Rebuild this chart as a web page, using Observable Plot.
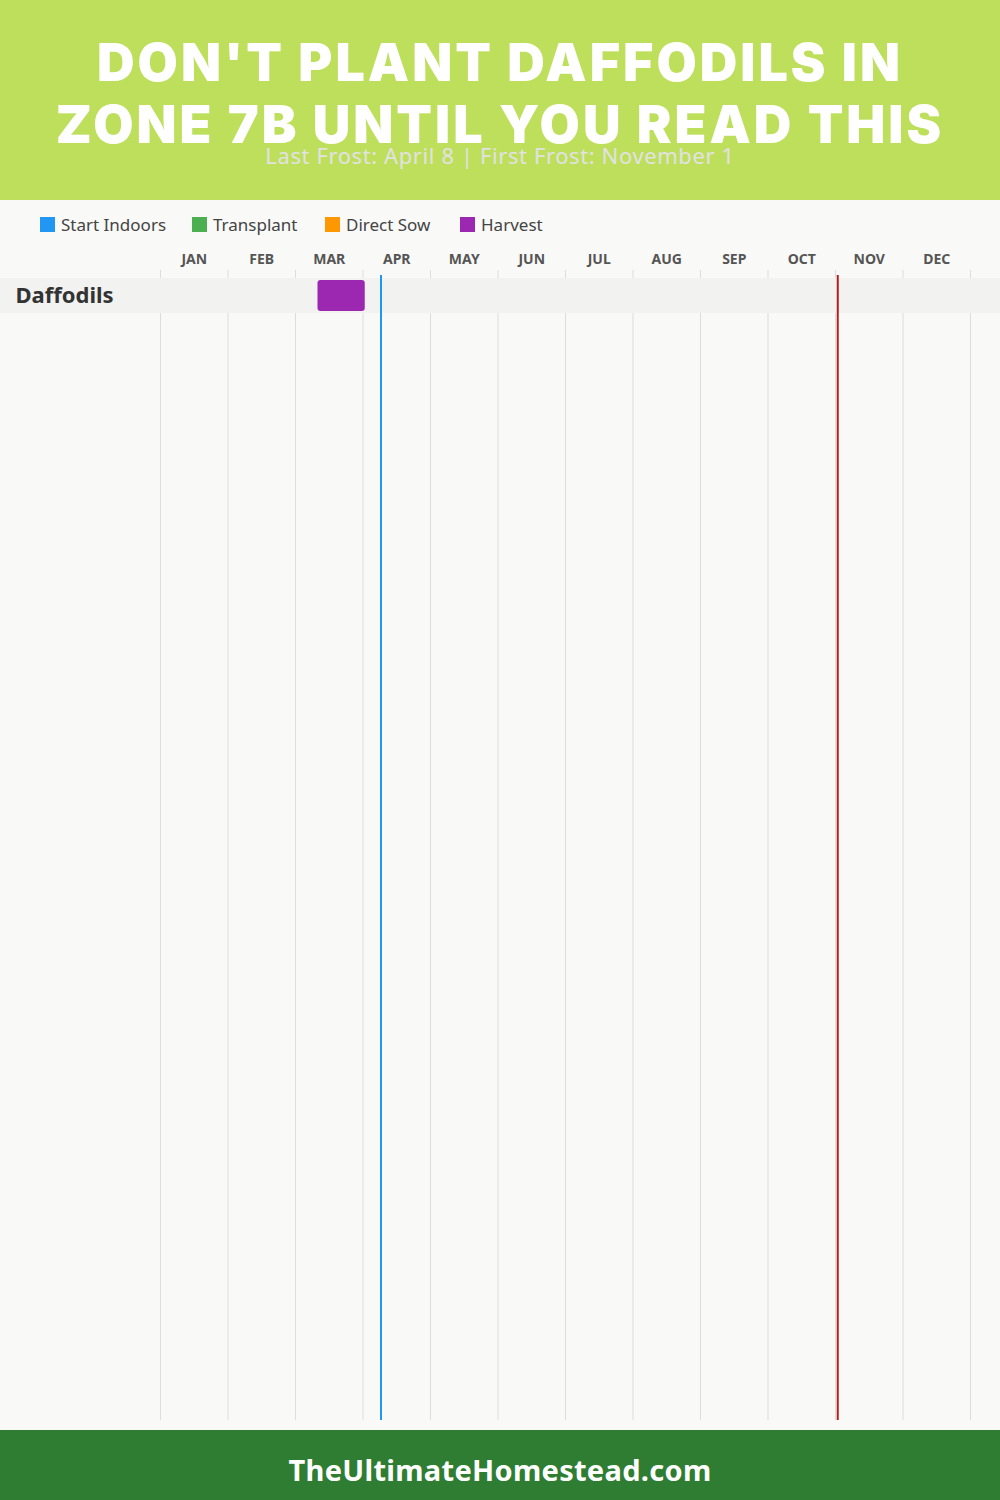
<!DOCTYPE html>
<html><head><meta charset="utf-8">
<script src="https://cdn.jsdelivr.net/npm/d3@7"></script>
<script src="https://cdn.jsdelivr.net/npm/@observablehq/plot@0.6"></script>
<style>
body{margin:0;background:#f9f9f7;font-family:"Noto Sans",sans-serif;width:1000px;}
#header{position:relative;height:200px;background:#bedf5c;}
#title{position:absolute;left:0;right:0;top:32px;text-align:center;color:#fff;font-family:Inter,sans-serif;font-weight:900;font-size:52px;line-height:62px;letter-spacing:3px;}
#sub{position:absolute;left:0;right:0;top:140px;text-align:center;color:#e2e2e2;font-size:22px;line-height:30px;letter-spacing:0.6px;}
#legend{position:relative;height:40px;}
.li{position:absolute;top:13px;display:flex;align-items:center;font-size:17px;color:#444;}
.sw{width:15px;height:15px;margin-right:6px;}
#chart svg{display:block;}
#chart text.crop{letter-spacing:0.4px;}
#footer{height:70px;background:#2e7d32;color:#fff;text-align:center;font-weight:700;font-size:29px;line-height:80px;letter-spacing:0.3px;}
</style></head>
<body>
<div id="header"><div id="title"></div><div id="sub"></div></div>
<div id="legend"></div>
<div id="chart"></div>
<div id="footer"></div>
<script>
const titleLines = ["DON'T PLANT DAFFODILS IN", "ZONE 7B UNTIL YOU READ THIS"];
const subtitle = "Last Frost: April 8 | First Frost: November 1";
const footerText = "TheUltimateHomestead.com";
const months = ["JAN","FEB","MAR","APR","MAY","JUN","JUL","AUG","SEP","OCT","NOV","DEC"];
const legendNames = ["Start Indoors","Transplant","Direct Sow","Harvest"];
const legendColors = ["#2196f3","#4caf50","#ff9800","#9c27b0"];
const crops = ["Daffodils"];
// activity periods: crop, type, start [month index, day], end [month index, day]
const periodCrop = ["Daffodils"];
const periodType = ["Harvest"];
const periodStart = [[2,10]];
const periodEnd = [[3,1]];
const frostNames = ["Last Frost","First Frost"];
const frostDates = [[3,8],[10,1]];
const frostColors = ["#2196f3","#b71c1c"];

document.getElementById("title").innerHTML = titleLines.join("<br>");
document.getElementById("sub").textContent = subtitle;
document.getElementById("footer").textContent = footerText;
const legendX = [40,192,325,460];
const leg = document.getElementById("legend");
legendNames.forEach((n,i)=>{
  const d=document.createElement("div");d.className="li";d.style.left=legendX[i]+"px";
  d.innerHTML=`<div class="sw" style="background:${legendColors[i]}"></div><span>${n}</span>`;
  leg.appendChild(d);
});

const toX = ([m,d]) => m + d/30;
const periods = periodCrop.map((c,i)=>({crop:c,type:periodType[i],x1:toX(periodStart[i]),x2:toX(periodEnd[i])}));
const frosts = frostNames.map((n,i)=>({name:n,x:toX(frostDates[i]),color:frostColors[i]}));
const monthData = months.map((m,i)=>({m,x:i+0.5}));
const gridData = d3.range(0,13);

const chart = Plot.plot({
  width:1000, height:1190,
  marginLeft:0, marginRight:0, marginTop:30, marginBottom:10,
  style:{background:"transparent", fontFamily:"Noto Sans, sans-serif"},
  x:{domain:[0,12], range:[160,970], axis:null},
  y:{domain:crops, range:[38,73], padding:0, axis:null},
  color:{domain:legendNames, range:legendColors},
  marks:[
    Plot.ruleX(gridData,{x:d=>d, stroke:"#dddddd", strokeWidth:1}),
    Plot.cell(crops,{y:d=>d, fill:"#f2f2f0", inset:0}),
    Plot.barX(periods,{x1:"x1", x2:"x2", y:"crop", fill:"type", rx:3, insetTop:2, insetBottom:2}),
    Plot.ruleX(frosts,{x:"x", stroke:"color", strokeWidth:2, insetTop:5}),
    Plot.text(monthData,{x:"x", text:"m", frameAnchor:"top", lineAnchor:"middle", dy:-11, fontSize:14, fontWeight:700, fill:"#555"}),
    Plot.text(crops,{y:d=>d, text:d=>d, frameAnchor:"left", dx:15, fontSize:22, fontWeight:700, fill:"#333", textAnchor:"start", className:"crop"})
  ]
});
document.getElementById("chart").appendChild(chart);
</script>
</body></html>
